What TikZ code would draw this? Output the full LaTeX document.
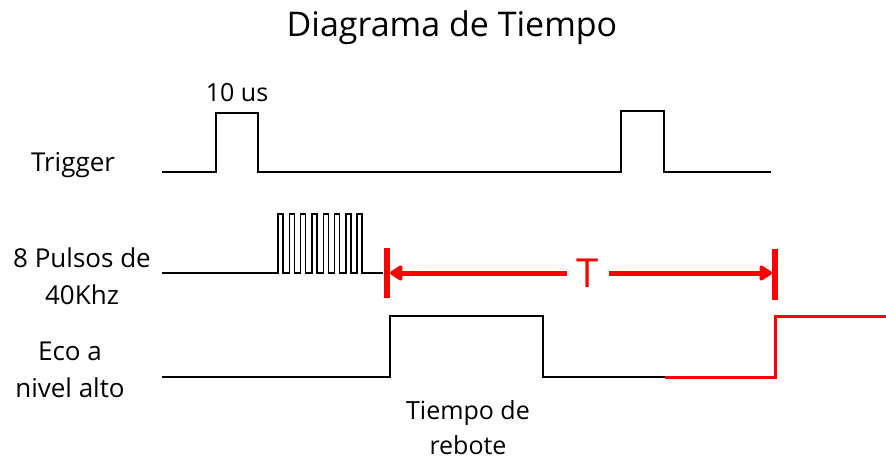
\documentclass[tikz,border=0pt]{standalone}
\usepackage{fontspec}
\setmainfont{Open Sans}
\usetikzlibrary{arrows.meta}

\begin{document}
\begin{tikzpicture}[x=1pt,y=-1pt,
  wave/.style={line width=1.8pt},
  lbl/.style={font=\fontsize{26}{37}\selectfont,align=center},
  dim/.style={red,line width=5pt,-{Triangle[length=14pt,width=17pt,round]}}]
\useasboundingbox (0,0) rectangle (886,461);
\node[font=\fontsize{34}{40}\selectfont,anchor=base] (title) at (452,36) {Diagrama de Tiempo};
\node[lbl] (trig) at (73,165) {Trigger};
\node[lbl] (puls) at (82,276) {8 Pulsos de\\40Khz};
\node[lbl] (eco) at (70,370) {Eco a\\nivel alto};
\node[lbl,font=\fontsize{25}{36}\selectfont] (ancho) at (237,93) {10 us};
\node[lbl,font=\fontsize{25}{35}\selectfont,inner sep=0pt] (reb) at (468,428) {Tiempo de\\rebote};

\draw[wave] (162,172) -- (216,172) -- (216,113) -- (258,113) -- (258,172) -- (621,172)
  -- (621,111) -- (664,111) -- (664,172) -- (771,172);
\draw[wave,line width=1.4pt] (162,273) -- (278,273)
  foreach \i in {1,...,8} { -- ++(0,-59) -- ++(5,0) -- ++(0,59) -- ++(6.3,0) } -- (383,273);
\draw[wave] (162,377) -- (390,377) -- (390,316) -- (543,316) -- (543,377) -- (665,377);
\draw[red,line width=3pt] (665,377) -- (775,377) -- (775,316) -- (886,316);

\coordinate (t0) at (390,273);
\coordinate (t1) at (772,273);
\draw[red,line width=6pt] (387,248) -- (387,298);
\draw[red,line width=6pt] (775,249) -- (775,300);
\node[text=red,font=\fontsize{40}{40}\selectfont,inner sep=10pt] (per) at (588,273) {T};
\draw[dim] (per.west) -- (t0);
\draw[dim] (per.east) -- (t1);
\end{tikzpicture}
\end{document}
